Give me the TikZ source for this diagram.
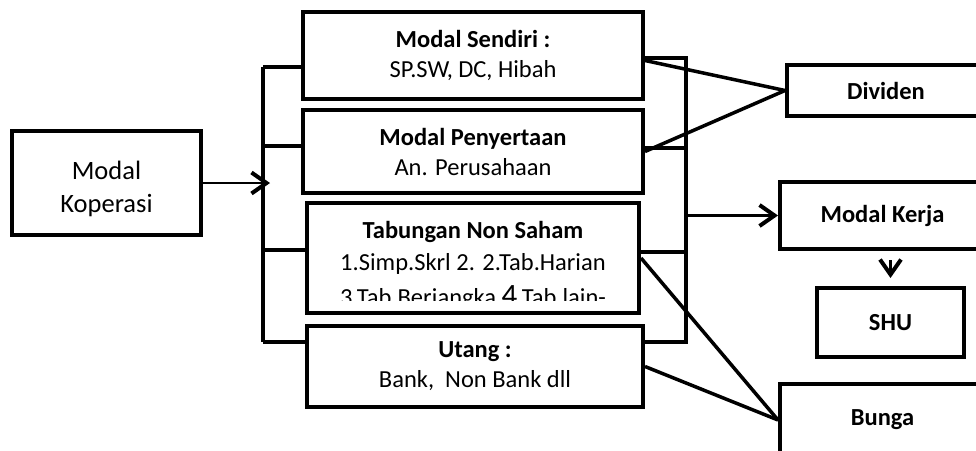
\documentclass[tikz,border=0pt]{standalone}
\usepackage{fontspec}
\setmainfont{Carlito}
\usetikzlibrary{arrows.meta}

\begin{document}
\begin{tikzpicture}[x=1pt, y=-1pt,
  box/.style={draw, line width=4pt, inner sep=0pt, align=center,
              font=\fontsize{24.5}{30}\selectfont},
  txt/.style={inner sep=0pt, anchor=base, font=\fontsize{24.5}{30}\selectfont},
  bar/.style={line width=4pt},
  link/.style={line width=3.5pt},
  arr/.style={line width=2.5pt, -{Straight Barb[length=15pt,width=21pt,line width=4pt]}}]

  \clip (0,0) rectangle (976,450);

  \node[box, minimum width=189pt, minimum height=104pt] (kop) at (106.5,183) {};
  \node[align=center, inner sep=0pt, font=\fontsize{26.5}{33}\selectfont] (kopt)
       at ([yshift=-6pt]kop.center) {Modal\\Koperasi};

  \node[box, minimum width=340pt, minimum height=87pt] (ms) at (473,55.5)
       {\textbf{Modal Sendiri :}\\SP.SW, DC, Hibah};
  \node[box, minimum width=340pt, minimum height=83pt] (mp) at (473,151.5)
       {\textbf{Modal Penyertaan}\\An. Perusahaan};
  \node[box, minimum width=332pt, minimum height=110pt] (tb) at (473,258) {};
  \node[box, minimum width=336pt, minimum height=81pt] (ut) at (475,366.5)
       {\textbf{Utang :}\\Bank,\ \ Non Bank dll};

  \begin{scope}
    \clip (tb.north west) rectangle (639,300);
    \node[txt] (tb1) at (473,238) {\textbf{Tabungan Non Saham}};
    \node[txt] (tb2) at (473,270) {1.Simp.Skrl 2. 2.Tab.Harian};
    \node[txt] (tb3) at (473,305) {3.Tab.Berjangka {\fontsize{31}{31}\selectfont 4}.Tab.lain-};
  \end{scope}

  \node[box, minimum width=198pt, minimum height=51pt] (dv) at (886,90.5) {\textbf{Dividen}};
  \node[box, minimum width=205pt, minimum height=67pt] (mk) at (882.5,215.5) {\textbf{Modal Kerja}};
  \node[box, minimum width=147pt, minimum height=69pt] (shu) at (890.5,322.5) {\textbf{SHU}};
  \node[box, minimum width=205pt, minimum height=72pt] (bg) at (882.5,420) {\textbf{Bunga}};

  % left bracket
  \coordinate (lt) at (263,67);
  \coordinate (lb) at (263,342);
  \draw[bar] (lt) -- (lb);
  \foreach \b/\y in {ms/67, mp/146, tb/250, ut/342}
    \draw[bar] (263,\y) -- (\b.west |- 0,\y);
  \draw[arr] (kop.east) -- ([xshift=7pt]kop.east -| lt);

  % right bracket
  \coordinate (rt) at (686,58);
  \coordinate (rb) at (686,342);
  \draw[bar] (ms.east |- rt) -- (rt) -- (rb) -- (ut.east |- rb);
  \foreach \b/\y in {mp/148, tb/252}
    \draw[bar] (686,\y) -- (\b.east |- 0,\y);
  \draw[arr] (mk.west -| rb) -- (mk.west);

  \draw[link] ([yshift=-5pt]ms.east) -- (dv.west);
  \draw[link] (mp.east) -- (dv.west);
  \draw[link] (tb.east) -- (bg.west);
  \draw[link] (ut.east) -- (bg.west);

  \draw[arr, shorten <=9pt, shorten >=8pt] (shu.north |- mk.south) -- (shu.north);
\end{tikzpicture}
\end{document}
